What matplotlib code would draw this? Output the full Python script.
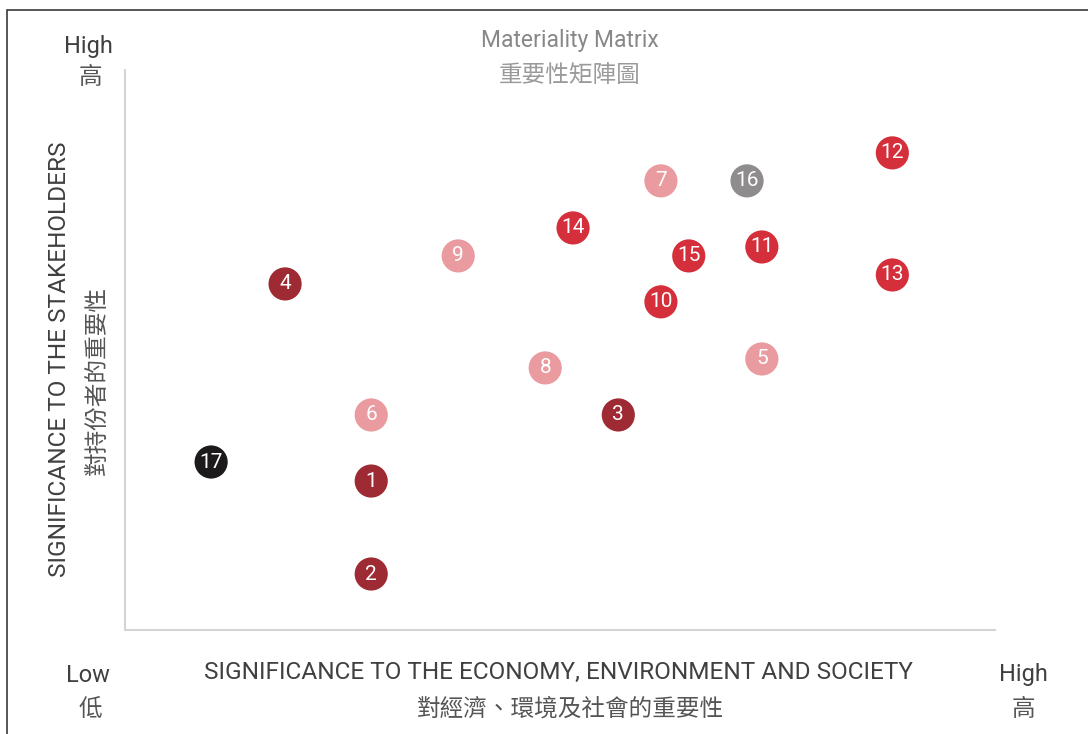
import matplotlib
matplotlib.use("Agg")
import matplotlib.pyplot as plt
import matplotlib.patches as patches

plt.rcParams["font.family"] = ["Roboto", "Noto Sans CJK TC", "DejaVu Sans"]

# topic number, x = significance to economy/environment/society, y = significance to stakeholders
labels = ["1", "2", "3", "4", "5", "6", "7", "8", "9", "10", "11", "12", "13", "14", "15", "16", "17"]
x_vals = [2.83, 2.83, 5.67, 1.84, 7.32, 2.83, 6.16, 4.83, 3.83, 6.16, 7.32, 8.82, 8.82, 5.15, 6.48, 7.15, 0.99]
y_vals = [2.66, 1.00, 3.84, 6.18, 4.84, 3.84, 8.02, 4.68, 6.68, 5.86, 6.84, 8.52, 6.34, 7.18, 6.68, 8.02, 3.00]
groups = ["dark", "dark", "dark", "dark", "pink", "pink", "pink", "pink", "pink", "red", "red",
          "red", "red", "red", "red", "gray", "black"]

group_colors = {
    "dark": "#9e2a33",
    "red": "#d42f3b",
    "pink": "#e99ba0",
    "gray": "#8e8c8d",
    "black": "#1c1a1b",
}

fig = plt.figure(figsize=(10.88, 7.34), dpi=100)

# outer frame (cut off at right/bottom like the reference)
fig.patches.append(patches.Rectangle((7 / 1088, -0.05), 1.1, (734 - 10) / 734 + 0.05,
                                     transform=fig.transFigure, fill=False,
                                     edgecolor="#3a3a3a", linewidth=1.2))

ax = fig.add_axes([125 / 1088, (734 - 630) / 734, 870 / 1088, 560 / 734])
ax.set_xlim(0, 10)
ax.set_ylim(0, 10)
for side in ("top", "right"):
    ax.spines[side].set_visible(False)
for side in ("left", "bottom"):
    ax.spines[side].set_color("#d4d4d4")
    ax.spines[side].set_linewidth(1.5)
ax.set_xticks([])
ax.set_yticks([])

colors = [group_colors[g] for g in groups]
ax.scatter(x_vals, y_vals, s=570, c=colors, edgecolors="none", zorder=3)
for lab, xv, yv in zip(labels, x_vals, y_vals):
    ax.text(xv, yv, lab, color="white", fontsize=15, ha="center", va="center",
            fontweight="normal", zorder=4)

lat_kw = dict(color="#404040", fontweight="normal", ha="center", va="center")
cjk_kw = dict(color="#555555", ha="center", va="center")
fig.text(88 / 1088, 1 - 46 / 734, "High", fontsize=17, **lat_kw)
fig.text(90 / 1088, 1 - 77 / 734, "高", fontsize=17, **cjk_kw)
fig.text(88 / 1088, 1 - 675 / 734, "Low", fontsize=17, **lat_kw)
fig.text(90 / 1088, 1 - 710 / 734, "低", fontsize=17, **cjk_kw)
fig.text(1023 / 1088, 1 - 675 / 734, "High", fontsize=17, **lat_kw)
fig.text(1023 / 1088, 1 - 710 / 734, "高", fontsize=17, **cjk_kw)

fig.text(570 / 1088, 1 - 41 / 734, "Materiality Matrix", fontsize=16.5,
         color="#888888", fontweight="normal", ha="center", va="center")
fig.text(570 / 1088, 1 - 76 / 734, "重要性矩陣圖", fontsize=17,
         color="#9a9a9a", ha="center", va="center")

fig.text(559 / 1088, 1 - 672 / 734, "SIGNIFICANCE TO THE ECONOMY, ENVIRONMENT AND SOCIETY",
         fontsize=17.6, **lat_kw)
fig.text(570 / 1088, 1 - 710 / 734, "對經濟、環境及社會的重要性", fontsize=17, **cjk_kw)

fig.text(60 / 1088, 1 - 359 / 734, "SIGNIFICANCE TO THE STAKEHOLDERS", fontsize=17.6,
         rotation=90, **lat_kw)
fig.text(97 / 1088, 1 - 381 / 734, "對持份者的重要性", fontsize=17, rotation=90, **cjk_kw)

fig.savefig("out.png", dpi=100)
